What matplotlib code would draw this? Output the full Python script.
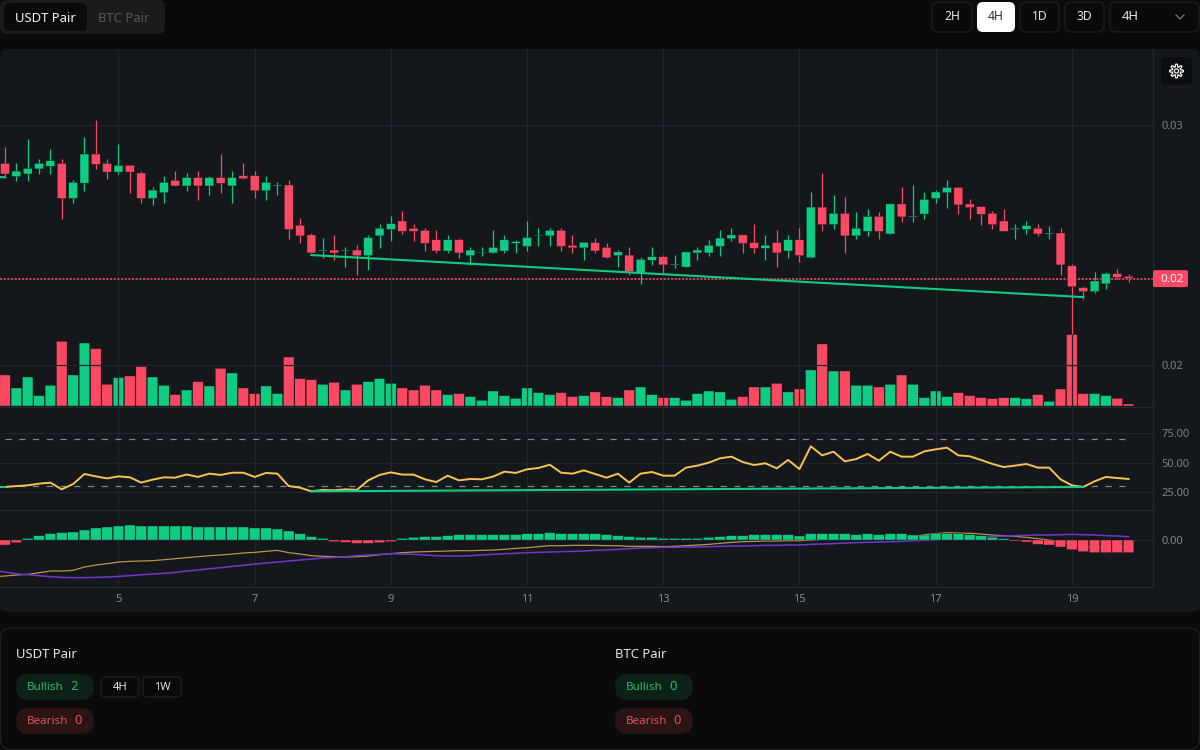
import numpy as np
import matplotlib
matplotlib.use("Agg")
import matplotlib.pyplot as plt
from matplotlib.patches import FancyBboxPatch, Circle, Polygon

plt.rcParams['font.family'] = ['Noto Sans', 'DejaVu Sans']

# Candles, prices in 1e-5 units
opens = [2840, 2785, 2796, 2817, 2828, 2840, 2694, 2758, 2879, 2840,
         2804, 2832, 2800, 2694, 2718, 2769, 2746, 2781, 2746, 2781,
         2746, 2789, 2789, 2726, 2746, 2750, 2582, 2542, 2475, 2479,
         2475, 2479, 2456, 2538, 2565, 2600, 2570, 2561, 2522, 2475,
         2522, 2456, 2468, 2467, 2475, 2507, 2494, 2539, 2538, 2561,
         2499, 2488, 2510, 2490, 2456, 2458, 2385, 2436, 2451, 2417,
         2408, 2467, 2467, 2494, 2526, 2542, 2510, 2486, 2510, 2475,
         2522, 2447, 2658, 2585, 2632, 2538, 2557, 2619, 2546, 2671,
         2617, 2629, 2694, 2718, 2740, 2671, 2660, 2632, 2600, 2565,
         2565, 2570, 2546, 2550, 2413, 2322, 2306, 2338, 2381, 2369]
closes = [2796, 2808, 2819, 2840, 2851, 2694, 2761, 2879, 2836, 2804,
          2832, 2804, 2694, 2729, 2761, 2746, 2781, 2746, 2781, 2757,
          2781, 2776, 2726, 2761, 2750, 2565, 2538, 2467, 2479, 2467,
          2479, 2456, 2531, 2570, 2589, 2557, 2557, 2507, 2475, 2522,
          2467, 2479, 2471, 2490, 2522, 2514, 2531, 2542, 2561, 2494,
          2488, 2511, 2475, 2447, 2471, 2389, 2440, 2451, 2417, 2421,
          2471, 2479, 2499, 2529, 2542, 2507, 2486, 2499, 2467, 2522,
          2456, 2658, 2585, 2632, 2538, 2570, 2619, 2557, 2671, 2617,
          2621, 2690, 2721, 2740, 2667, 2656, 2628, 2585, 2557, 2570,
          2581, 2546, 2550, 2417, 2326, 2306, 2350, 2381, 2365, 2360]
highs = [2910, 2840, 2942, 2858, 2899, 2858, 2769, 2949, 3021, 2858,
         2921, 2832, 2808, 2742, 2789, 2808, 2800, 2808, 2789, 2879,
         2808, 2840, 2808, 2789, 2761, 2769, 2613, 2550, 2531, 2542,
         2490, 2499, 2542, 2589, 2621, 2640, 2589, 2570, 2561, 2542,
         2531, 2490, 2490, 2561, 2542, 2522, 2600, 2570, 2570, 2570,
         2542, 2511, 2529, 2510, 2479, 2490, 2451, 2490, 2458, 2458,
         2471, 2490, 2522, 2561, 2570, 2542, 2589, 2542, 2561, 2542,
         2570, 2722, 2800, 2710, 2699, 2639, 2651, 2639, 2676, 2740,
         2750, 2721, 2729, 2769, 2740, 2690, 2660, 2640, 2651, 2589,
         2600, 2589, 2581, 2570, 2421, 2329, 2389, 2389, 2400, 2381]
lows = [2778, 2765, 2765, 2796, 2796, 2608, 2675, 2726, 2817, 2776,
        2796, 2718, 2675, 2667, 2675, 2746, 2726, 2687, 2707, 2718,
        2675, 2776, 2694, 2687, 2707, 2525, 2507, 2467, 2447, 2436,
        2408, 2376, 2396, 2488, 2518, 2546, 2518, 2475, 2467, 2467,
        2447, 2417, 2456, 2467, 2467, 2467, 2475, 2494, 2494, 2475,
        2467, 2436, 2467, 2447, 2408, 2376, 2338, 2417, 2385, 2404,
        2408, 2436, 2456, 2456, 2518, 2467, 2467, 2436, 2408, 2447,
        2428, 2447, 2557, 2565, 2467, 2526, 2538, 2526, 2546, 2597,
        2597, 2608, 2675, 2656, 2628, 2608, 2585, 2565, 2557, 2526,
        2546, 2538, 2526, 2376, 2129, 2275, 2299, 2318, 2357, 2346]

volumes = [93, 54, 87, 31, 62, 194, 93, 189, 172, 65, 85, 90, 118, 87, 62, 34, 48, 73, 60, 113,
           99, 54, 37, 60, 37, 147, 82, 79, 65, 71, 48, 65, 73, 82, 68, 54, 48, 62, 48, 34,
           37, 28, 17, 45, 31, 23, 54, 40, 34, 40, 28, 31, 42, 28, 25, 48, 57, 34, 25, 25,
           17, 37, 45, 42, 20, 28, 57, 57, 68, 42, 51, 108, 186, 105, 105, 62, 62, 57, 65, 93,
           65, 25, 45, 28, 40, 31, 25, 22, 25, 25, 22, 34, 14, 51, 214, 37, 37, 31, 23, 6]

# Indicator lines start one bar before the first visible candle
rsi = [29.3, 29.5, 30.3, 30.9, 32.3, 33.2, 27.5, 32.0, 40.5, 38.5, 36.8, 38.5, 37.7, 33.2, 35.7, 37.7, 37.4,
       40.1, 38.0, 40.8, 39.7, 41.6, 41.6, 38.0, 41.4, 40.8, 30.3, 28.9, 25.8, 27.0, 26.7, 27.5, 27.0,
       35.1, 39.7, 41.9, 40.0, 40.0, 36.0, 33.7, 39.1, 35.1, 36.3, 36.0, 38.3, 42.5, 41.4, 44.5, 45.6,
       48.4, 41.6, 40.8, 43.6, 40.5, 37.4, 40.8, 33.2, 40.8, 42.2, 39.1, 39.1, 45.9, 47.6, 50.1, 53.8,
       55.2, 50.7, 48.1, 49.6, 45.3, 52.4, 44.7, 64.0, 56.3, 59.4, 51.2, 53.2, 57.5, 51.8, 59.4, 55.2,
       55.2, 59.7, 61.4, 62.8, 56.3, 55.5, 52.4, 49.0, 46.4, 47.6, 49.0, 45.9, 45.9, 36.0, 30.9, 29.5,
       34.3, 38.0, 37.1, 36.3]
macd_line = [-110, -108, -105, -103, -98, -93, -93, -91, -81, -75, -71, -66, -64, -63, -62, -59, -56, -53,
             -50, -47, -45, -42, -39, -37, -34, -31, -38, -42, -47, -49, -50, -51, -50, -48, -44, -41,
             -38, -36, -35, -34, -33, -32, -32, -31, -30, -28, -25, -23, -20, -17, -17, -16, -16, -16,
             -17, -17, -19, -19, -19, -20, -19, -17, -15, -13, -10, -7, -5, -4, -3, -3, -2,
             -2, 0, 2, 2, 3, 4, 5, 5, 7, 8, 10, 16, 19, 22, 21, 20, 18, 15, 13, 11, 8, 4, 0, -6, -12,
             -19, -22, -22, -22, -22]
signal_line = [-91, -96, -101, -104, -107, -110, -112, -113, -113, -112, -111, -109, -107, -104, -102, -100,
               -97, -93, -90, -86, -83, -79, -76, -72, -69, -66, -63, -60, -57, -54, -52, -50, -47, -45, -43,
               -41, -42, -43, -45, -47, -48, -48, -47, -45, -43, -41, -40, -38, -37, -36, -35, -34, -33, -31,
               -30, -28, -26, -24, -23, -22, -22, -21, -21, -20, -19, -18, -18, -17, -16, -16, -15,
               -15, -13, -12, -11, -9, -8, -7, -6, -5, -4, -2, -1, 1, 3, 5, 7, 8, 10, 12, 13, 14, 15, 15,
               16, 17, 16, 15, 13, 12, 10]
macd_hist = [-15, -8, 5, 13, 19, 22, 24, 30, 36, 39, 42, 45, 42, 42, 42, 42, 42, 39, 39, 39, 39, 39, 36, 36,
             33, 27, 19, 10, 5, -5, -7, -10, -10, -8, -5, 5, 8, 10, 10, 13, 16, 16, 16, 16, 16, 16, 19, 19,
             22, 19, 19, 19, 19, 16, 13, 10, 8, 8, 5, 5, 5, 5, 8, 10, 13, 13, 16, 16, 16, 16,
             12, 19, 19, 19, 19, 16, 19, 16, 19, 19, 15, 15, 19, 19, 19, 16, 13, 8, 4, -3, -6, -13, -15,
             -21, -29, -35, -38, -38, -38, -38]

# Divergence trendlines: (bar, value)
price_trend = [(27, 2458), (95, 2283)]
price_trend_left = [(-1, 2785), (0, 2782)]
rsi_trend = [(27, 25.8), (95, 29.5)]
rsi_trend_left = [(-1, 29.4), (0, 29.5)]

date_bars = [10, 22, 34, 46, 58, 70, 82, 94]
date_labels = ['5', '7', '9', '11', '13', '15', '17', '19']

GREEN = '#0fcc83'
RED = '#fb4964'
GRID = '#22262c'
TICK = '#7c8088'
W, H = 1200, 750
X_LEFT, X_RIGHT = -0.44, 101.15


def pane(x0, y0, x1, y1, **kwargs):
    # pixel box, y measured from the top of the image
    ax = fig.add_axes([x0 / W, 1 - y1 / H, (x1 - x0) / W, (y1 - y0) / H], **kwargs)
    ax.patch.set_alpha(0)
    ax.set_xlim(X_LEFT, X_RIGHT)
    ax.set_xticks(date_bars)
    ax.tick_params(length=0, labelbottom=False, labelleft=False, labelright=True,
                   left=False, right=False, pad=6.2, labelsize=8, labelcolor=TICK)
    ax.yaxis.tick_right()
    ax.grid(True, color=GRID, linewidth=0.9)
    ax.set_axisbelow(True)
    for side in ['top', 'left']:
        ax.spines[side].set_visible(False)
    for side in ['bottom', 'right']:
        ax.spines[side].set_color('#262a30')
        ax.spines[side].set_linewidth(0.9)
    return ax


def box(ui, x0, y0, x1, y1, radius, face, edge='none', lw=0.9, z=1):
    patch = FancyBboxPatch((x0 + radius, y0 + radius), x1 - x0 - 2 * radius, y1 - y0 - 2 * radius,
                           boxstyle=f"round,pad={radius},rounding_size={radius}",
                           facecolor=face, edgecolor=edge, linewidth=lw, zorder=z)
    ui.add_patch(patch)


def label(ui, x, y, text, color, size=9.4, ha='left', **kwargs):
    ui.text(x, y + 1, text, color=color, fontsize=size, ha=ha, va='center', zorder=5, **kwargs)


def no_snap(container):
    # keep every bar the same width instead of rounding to whole pixels
    for patch in container:
        patch.set_snap(False)


def draw_ui(ui):
    ui.set_xlim(0, W)
    ui.set_ylim(H, 0)
    ui.axis('off')

    # chart panel
    box(ui, 0, 49, 1200, 612, 8, '#14171c')

    # pair switch
    box(ui, 0, 0, 165, 34, 7, '#1b1b1d')
    box(ui, 4, 3, 87, 31, 6, '#0a0a0a', z=2)
    label(ui, 45.5, 17, 'USDT Pair', '#f2f2f2', ha='center')
    label(ui, 124, 17, 'BTC Pair', '#57575a', ha='center')

    # timeframe buttons
    for x0, x1, txt in [(932, 972, '2H'), (1020, 1059, '1D'), (1065, 1104, '3D')]:
        box(ui, x0, 2, x1, 32, 6, '#0a0a0a', edge='#1f1f21')
        label(ui, (x0 + x1) / 2, 16, txt, '#e6e6e6', size=8.8, ha='center')
    box(ui, 977, 2, 1015, 32, 6, '#ffffff')
    label(ui, 996, 16, '4H', '#303033', size=8.8, ha='center')
    box(ui, 1110, 2, 1199, 32, 6, '#0a0a0a', edge='#1f1f21')
    label(ui, 1122, 16, '4H', '#e6e6e6', size=9.4)
    ui.plot([1176, 1180, 1184], [15, 19, 15], color='#77777b', lw=0.9, zorder=5)

    # settings button, gear drawn as a small outline
    box(ui, 1161, 57, 1192, 85, 5, '#0c0d0f', z=3)
    angle = np.linspace(0, 2 * np.pi, 97)
    radius = 5.6 + 1.3 * np.clip(2.2 * np.cos(8 * angle), -1, 1)
    ui.add_patch(Polygon(np.column_stack([1176.5 + radius * np.cos(angle), 71 + radius * np.sin(angle)]),
                         closed=True, fill=False, edgecolor='#eeeeee', linewidth=0.9, zorder=5))
    ui.add_patch(Circle((1176.5, 71), 2.1, fill=False, edgecolor='#eeeeee', linewidth=0.9, zorder=5))

    # bottom summary card
    box(ui, 0.5, 628, 1199.5, 749.5, 10, '#0a0a0a', edge='#1f1f21')
    for x, title, bull, bear, bull_x, bear_x in [(16, 'USDT Pair', '2', '0', 70, 74),
                                                 (615, 'BTC Pair', '0', '0', 669, 673)]:
        label(ui, x, 653, title, '#e6e6e6')
        box(ui, x, 674, x + 78, 700, 13, '#0c2118', z=2)
        label(ui, x + 11, 686, 'Bullish', '#2eb765', size=8.4)
        label(ui, bull_x, 686, bull, '#2eb765', size=9.4)
        box(ui, x, 708, x + 78, 734, 13, '#2a1415', z=2)
        label(ui, x + 11, 720, 'Bearish', '#d9575c', size=8.4)
        label(ui, bear_x, 720, bear, '#d9575c', size=9.4)
    for x0, x1, txt in [(101, 139, '4H'), (143, 181, '1W')]:
        box(ui, x0, 677, x1, 697, 4, '#0a0a0a', edge='#1f1f21', z=2)
        label(ui, (x0 + x1) / 2, 686, txt, '#e0e0e0', size=8, ha='center')


def draw_chart():
    bars = np.arange(len(opens))
    line_bars = np.arange(-1, len(opens))
    o, c = np.array(opens) * 1e-5, np.array(closes) * 1e-5
    hi, lo = np.array(highs) * 1e-5, np.array(lows) * 1e-5
    colors = [GREEN if close >= open_ else RED for open_, close in zip(opens, closes)]

    # volume sits behind the candles in the main pane
    vol_ax = pane(0, 49, 1153, 406, zorder=2)
    no_snap(vol_ax.bar(bars, volumes, width=0.93, color=colors, edgecolor='#0e1014', linewidth=0.25))
    vol_ax.set_ylim(0, 1071)
    vol_ax.axis('off')

    ax = pane(0, 49, 1153, 406.5, zorder=3)
    ax.vlines(bars, lo, hi, colors=colors, linewidth=0.9, zorder=3)
    no_snap(ax.bar(bars, np.maximum(np.abs(c - o), 0.00003), bottom=np.minimum(o, c), width=0.78,
                   color=colors, edgecolor='#0e1014', linewidth=0.25, zorder=4))
    ax.set_ylim(0.018271, 0.033167)
    ax.set_yticks([0.03, 0.02])
    ax.set_yticklabels(['0.03', '0.02'])
    ax.axhline(c[-1], color='#ff4d68', linewidth=1.1, dashes=(1.4, 1.0), snap=True, zorder=2)
    for trend in [price_trend, price_trend_left]:
        ax.plot([p[0] for p in trend], [p[1] * 1e-5 for p in trend], color=GREEN, linewidth=1.5, zorder=5)

    # RSI pane
    rsi_ax = pane(0, 406.5, 1153, 510, zorder=3)
    rsi_ax.plot(line_bars, rsi, color='#f4c451', linewidth=1.4, zorder=4)
    for level in [70, 30]:
        rsi_ax.plot([bars[0], bars[-1]], [level, level], color='#83868c', linewidth=0.9,
                    dashes=(5, 6), zorder=3)
    for trend in [rsi_trend, rsi_trend_left]:
        rsi_ax.plot([p[0] for p in trend], [p[1] for p in trend], color=GREEN, linewidth=1.5, zorder=5)
    rsi_ax.set_ylim(10, 97.7)
    rsi_ax.set_yticks([75, 50, 25])
    rsi_ax.set_yticklabels(['75.00', '50.00', '25.00'])

    # MACD pane, the histogram covers both lines
    macd_ax = pane(0, 510, 1153, 586.7, zorder=3)
    hist_colors = [GREEN if v >= 0 else RED for v in macd_hist]
    macd_ax.plot(line_bars, macd_line, color='#b8964a', linewidth=0.9, zorder=3)
    macd_ax.plot(line_bars, signal_line, color='#6f36cc', linewidth=1.1, zorder=3)
    no_snap(macd_ax.bar(bars, macd_hist, width=0.93, color=hist_colors, edgecolor='#0e1014',
                        linewidth=0.25, zorder=4))
    macd_ax.set_ylim(-140, 90)
    macd_ax.set_yticks([0])
    macd_ax.set_yticklabels(['0.00'])
    macd_ax.tick_params(axis='x', labelbottom=True, pad=5.5, labelsize=8, labelcolor='#868a92')
    macd_ax.set_xticklabels(date_labels, fontweight='semibold')

    # last price tag, placed from the price axis onto an overlay in image pixels
    tag_y = H - ax.transData.transform((0, c[-1]))[1]
    tag_ax = fig.add_axes([0, 0, 1, 1], zorder=6)
    tag_ax.patch.set_alpha(0)
    tag_ax.set_xlim(0, W)
    tag_ax.set_ylim(H, 0)
    tag_ax.axis('off')
    box(tag_ax, 1153, tag_y - 8.5, 1188, tag_y + 8.5, 2, RED)
    tag_ax.text(1172.5, tag_y + 0.5, '0.02', color='#f4f4f4', fontsize=8.4, ha='center', va='center', zorder=5)


fig = plt.figure(figsize=(12, 7.5), dpi=100, facecolor='#0a0a0a')
ui_ax = fig.add_axes([0, 0, 1, 1], zorder=1)
draw_ui(ui_ax)
draw_chart()

fig.savefig('out.png', dpi=100, facecolor=fig.get_facecolor())
